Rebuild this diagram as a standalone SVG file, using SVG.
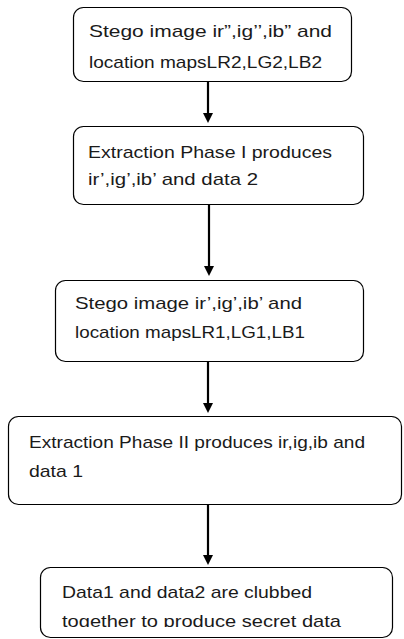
<svg xmlns="http://www.w3.org/2000/svg" width="404" height="639" viewBox="0 0 404 639">
<defs>
<style>
.box{fill:#fff;stroke:#000;stroke-width:1.2}
.t{font-family:"Liberation Sans",Arial,sans-serif;font-size:17px;fill:#1a1a1a}
.c{stroke:#000;stroke-width:2.2;fill:none}
</style>
<marker id="ah" markerWidth="10" markerHeight="12" refX="6" refY="5" orient="auto" markerUnits="userSpaceOnUse" viewBox="0 0 10 10">
<path d="M0,0 L10,5 L0,10 Z" fill="#000"/>
</marker>
<clipPath id="clip5"><rect x="0" y="560" width="404" height="67"/></clipPath>
</defs>
<rect width="404" height="639" fill="#fff"/>
<g id="connectors">
<path class="c" d="M208,82 V119" marker-end="url(#ah)"/>
<path class="c" d="M209,205 V272" marker-end="url(#ah)"/>
<path class="c" d="M208,362 V409" marker-end="url(#ah)"/>
<path class="c" d="M208,505 V561" marker-end="url(#ah)"/>
</g>
<g id="n1">
<rect class="box" x="73.5" y="7.5" width="278" height="74" rx="10"/>
<text class="t" x="89" y="37" textLength="243" lengthAdjust="spacingAndGlyphs">Stego image ir”,ig’’,ib”  and</text>
<text class="t" x="89" y="68" textLength="233" lengthAdjust="spacingAndGlyphs">location mapsLR2,LG2,LB2</text>
</g>
<g id="n2">
<rect class="box" x="73.5" y="126.5" width="290" height="78" rx="10"/>
<text class="t" x="88" y="158" textLength="244" lengthAdjust="spacingAndGlyphs">Extraction Phase I produces</text>
<text class="t" x="88" y="185" textLength="170" lengthAdjust="spacingAndGlyphs">ir’,ig’,ib’ and data 2</text>
</g>
<g id="n3">
<rect class="box" x="55.5" y="280.5" width="308" height="81" rx="10"/>
<text class="t" x="75" y="309" textLength="227" lengthAdjust="spacingAndGlyphs">Stego image ir’,ig’,ib’  and</text>
<text class="t" x="75" y="338" textLength="230" lengthAdjust="spacingAndGlyphs">location mapsLR1,LG1,LB1</text>
</g>
<g id="n4">
<rect class="box" x="8.5" y="416.5" width="393" height="88" rx="10"/>
<text class="t" x="29" y="448" textLength="336" lengthAdjust="spacingAndGlyphs">Extraction Phase II produces ir,ig,ib and</text>
<text class="t" x="29" y="477" textLength="54" lengthAdjust="spacingAndGlyphs">data 1</text>
</g>
<g id="n5">
<rect class="box" x="40.5" y="567.5" width="352" height="70" rx="10"/>
<text class="t" x="62" y="598" textLength="250" lengthAdjust="spacingAndGlyphs">Data1 and data2 are clubbed</text>
<text class="t" x="62" y="627" textLength="279" lengthAdjust="spacingAndGlyphs" clip-path="url(#clip5)">together to produce secret  data</text>
</g>
</svg>
